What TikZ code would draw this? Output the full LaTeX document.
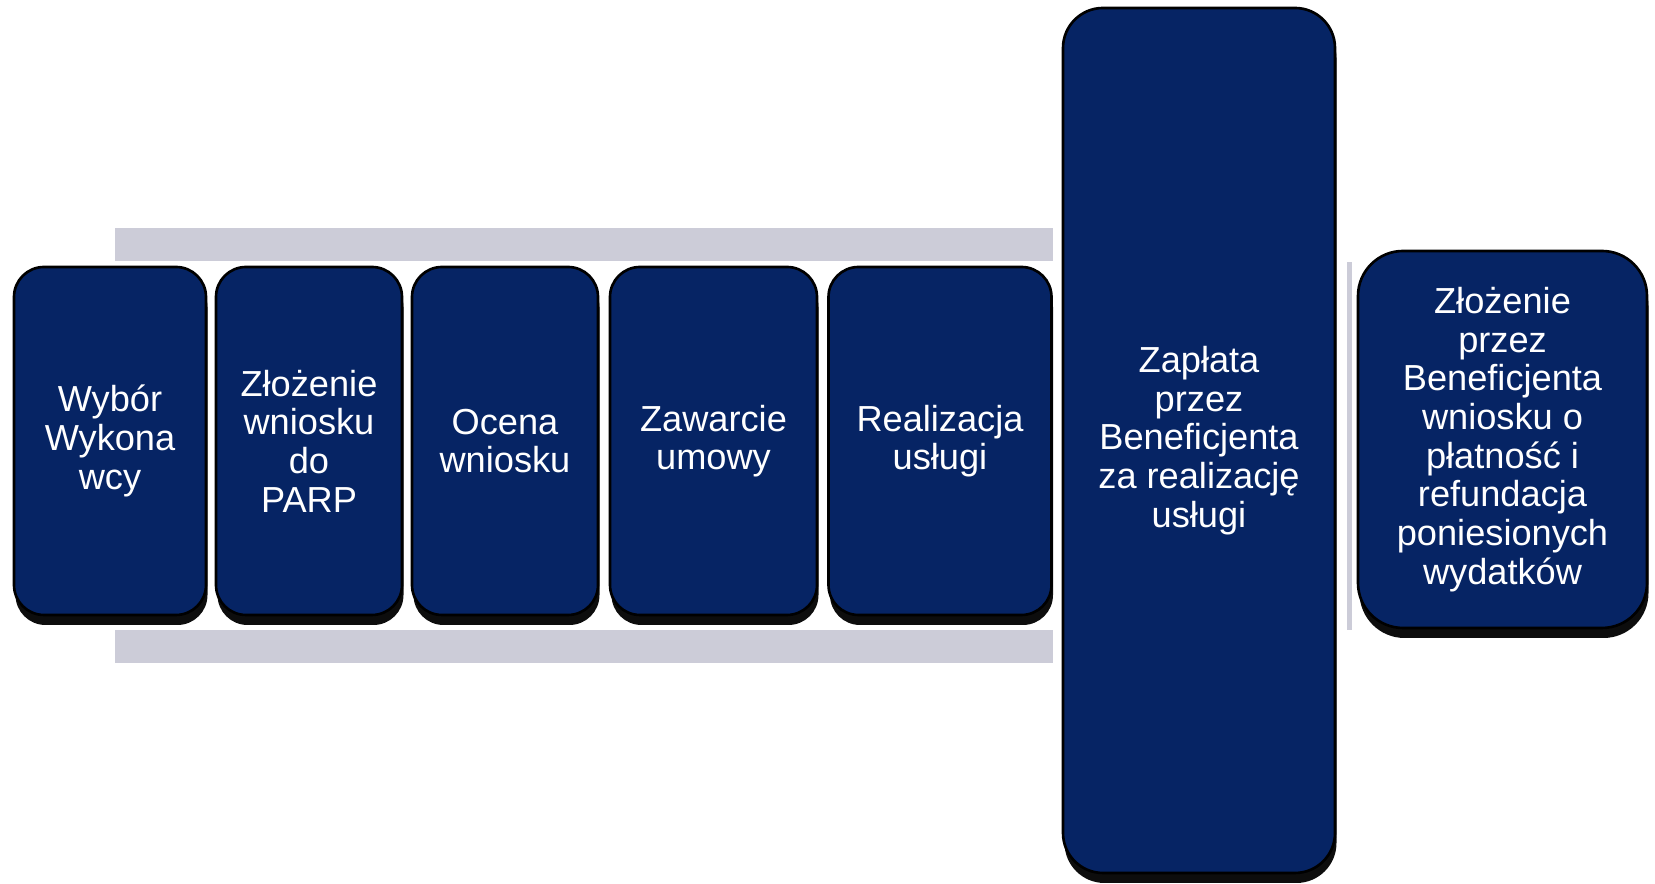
\documentclass[tikz,border=0pt]{standalone}
\usepackage{fontspec}
\newfontfamily\boxfont{Liberation Sans}
\usetikzlibrary{shadows}
\definecolor{navy}{RGB}{6,36,100}
\definecolor{band}{RGB}{204,204,216}

\begin{document}
\begin{tikzpicture}[
  thick,main node/.style={rounded corners=0.6cm,draw=black,line width=1.5pt,fill=navy,
    drop shadow={shadow xshift=0.03cm,shadow yshift=-0.2cm,fill=black,opacity=0.95},
    text=white,align=center,inner sep=0pt,font=\boxfont\fontsize{20.6}{22}\selectfont,
    minimum height=6.96cm}]
  \useasboundingbox (0,0) rectangle (33.1,17.68);

  \fill[band] (2.3,12.46) rectangle (21.06,13.12);
  \fill[band] (2.3,4.42) rectangle (21.06,5.08);
  \fill[band] (26.94,5.08) rectangle (27.04,12.44);

  \node[main node,minimum width=3.84cm] (1) at (2.2,8.86){Wybór\\Wykona\\wcy};
  \node[main node,minimum width=3.72cm] (2) at (6.18,8.86){Złożenie\\wniosku\\do\\PARP};
  \node[main node,minimum width=3.72cm] (3) at (10.1,8.86){Ocena\\wniosku};
  \node[main node,minimum width=4.14cm] (4) at (14.27,8.86){Zawarcie\\umowy};
  \node[main node,minimum width=4.46cm] (5) at (18.8,8.86){Realizacja\\usługi};
  \node[main node,rounded corners=0.8cm,minimum width=5.44cm,minimum height=17.3cm] (6)
    at (23.98,8.87){Zapłata\\przez\\Beneficjenta\\za realizację\\usługi};
  \node[main node,rounded corners=0.9cm,minimum width=5.78cm,minimum height=7.54cm] (7)
    at (30.05,8.89){Złożenie\\przez\\Beneficjenta\\wniosku o\\płatność i\\refundacja\\poniesionych\\wydatków};
\end{tikzpicture}
\end{document}
